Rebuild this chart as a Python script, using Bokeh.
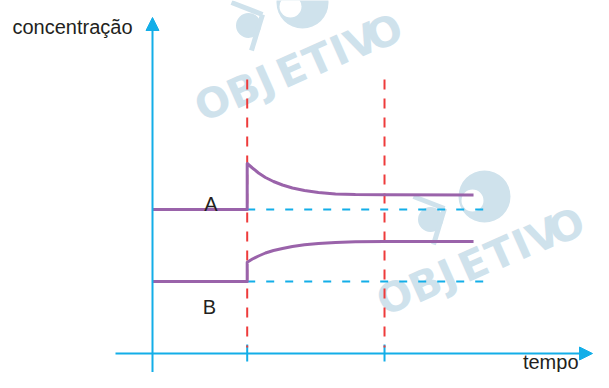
from bokeh.plotting import figure
from bokeh.models import Range1d, Arrow, NormalHead
from bokeh.core.properties import value
from bokeh.embed import file_html
from bokeh.resources import INLINE

# ---------------- data (arbitrary units) ----------------
t_disturb = 4.0          # time of the perturbation (first red dashed line)
t_new_eq = 9.8           # time the new equilibrium is reached (second red line)

# species A
A_t = [0, 4.0, 4.0, 4.22, 4.48, 4.77, 5.11, 5.49, 5.91, 6.42, 7.01, 7.73, 8.57, 9.8, 13.56]
A_c = [14.4, 14.4, 19.0, 18.55, 18.05, 17.6, 17.2, 16.85, 16.55, 16.3, 16.1, 15.95, 15.89, 15.87, 15.85]
# species B
B_t = [0, 4.0, 4.0, 4.22, 4.48, 4.77, 5.11, 5.49, 5.91, 6.42, 7.01, 7.73, 8.57, 9.8, 13.56]
B_c = [7.2, 7.2, 9.13, 9.45, 9.75, 10.05, 10.3, 10.5, 10.7, 10.87, 11.01, 11.11, 11.17, 11.19, 11.2]

A_initial = 14.4
B_initial = 7.2
ref_end = 13.98          # end of the dashed reference levels

series_labels = ["A", "B"]
y_title = "concentração"
x_title = "tempo"
watermark = "OBJETIVO"

# ---------------- styling ----------------
CYAN = "#13aee8"
RED = "#ee3b3b"
PURPLE = "#9a63aa"
WM = "#cfe2ec"
FONT = "Liberation Sans"

# pixel scale of the original drawing (px per unit)
S_T = 23.675
S_C = 10.0
X0_PX, Y0_PX = 152.0, 353.0   # canvas position of the origin


def px2t(px):
    return (px - X0_PX) / S_T


def py2c(py):
    return (Y0_PX - py) / S_C


W, H = 593, 372
p = figure(width=W, height=H, output_backend="svg", toolbar_location=None,
           x_range=Range1d(px2t(0), px2t(W)),
           y_range=Range1d(py2c(H), py2c(0)),
           x_axis_location=None, y_axis_location=None,
           min_border=0, outline_line_color=None,
           background_fill_color="white", border_fill_color="white")
p.grid.visible = False

# ---------------- watermark (decoration) ----------------
wm_centers = [(212.5, 102), (243, 90), (265, 80), (291, 70),
              (318, 59), (339, 50), (361, 41), (384, 32)]
for dx, dy in [(0, 0), (182, 194)]:
    # logo
    p.circle(x=[px2t(302 + dx)], y=[py2c(2 + dy)], radius=26 / S_T,
             fill_color=WM, line_color=None)
    p.circle(x=[px2t(290 + dx)], y=[py2c(6 + dy)], radius=11 / S_T,
             fill_color="white", line_color=None)
    p.circle(x=[px2t(248 + dx)], y=[py2c(25 + dy)], radius=12.5 / S_T,
             fill_color=WM, line_color=None)
    p.line(x=[px2t(231 + dx), px2t(262 + dx)], y=[py2c(2 + dy), py2c(14 + dy)],
           line_color=WM, line_width=5)
    p.line(x=[px2t(262 + dx), px2t(251 + dx)], y=[py2c(14 + dy), py2c(50 + dy)],
           line_color=WM, line_width=5)
    xs = [px2t(x + dx) for x, _ in wm_centers]
    ys = [py2c(y + dy) for _, y in wm_centers]
    p.text(x=xs, y=ys, text=list(watermark), angle=24, angle_units="deg",
           text_color=WM, text_font=value("DejaVu Sans"), text_font_style="bold",
           text_font_size="41px", text_align="center", text_baseline="middle")

# ---------------- axes ----------------
p.add_layout(Arrow(end=NormalHead(size=13, fill_color=CYAN, line_color=CYAN, line_width=1),
                   x_start=0, y_start=py2c(390), x_end=0, y_end=py2c(17),
                   line_color=CYAN, line_width=2))
p.add_layout(Arrow(end=NormalHead(size=13, fill_color=CYAN, line_color=CYAN, line_width=1),
                   x_start=px2t(115), y_start=0, x_end=px2t(592), y_end=0,
                   line_color=CYAN, line_width=2))
for t in [t_disturb, t_new_eq]:
    p.line(x=[t, t], y=[py2c(361), py2c(344)], line_color=CYAN, line_width=2)

# ---------------- red dashed time markers ----------------
for t in [t_disturb, t_new_eq]:
    p.line(x=[t, t], y=[py2c(79), py2c(347)], line_color=RED, line_width=2,
           line_dash="10 9")

# ---------------- cyan dashed initial levels ----------------
for c in [A_initial, B_initial]:
    p.line(x=[t_disturb, ref_end], y=[c, c], line_color=CYAN, line_width=1.8,
           line_dash="8 11")

# ---------------- concentration curves ----------------
p.line(x=A_t, y=A_c, line_color=PURPLE, line_width=3, line_join="round")
p.line(x=B_t, y=B_c, line_color=PURPLE, line_width=3, line_join="round")

# ---------------- texts ----------------
p.text(x=[px2t(210.5), px2t(209)], y=[py2c(203), py2c(306)], text=series_labels,
       text_font=value(FONT), text_font_size="20px", text_color="#231f20",
       text_align="center", text_baseline="alphabetic")
p.text(x=[px2t(12)], y=[py2c(26)], text=[y_title], text_font=value(FONT),
       text_font_size="20px", text_color="#231f20", text_align="left",
       text_baseline="alphabetic")
p.text(x=[px2t(578)], y=[py2c(372)], text=[x_title], text_font=value(FONT),
       text_font_size="20px", text_color="#231f20", text_align="right",
       text_baseline="bottom")

open("out.html", "w").write(file_html(p, INLINE))
